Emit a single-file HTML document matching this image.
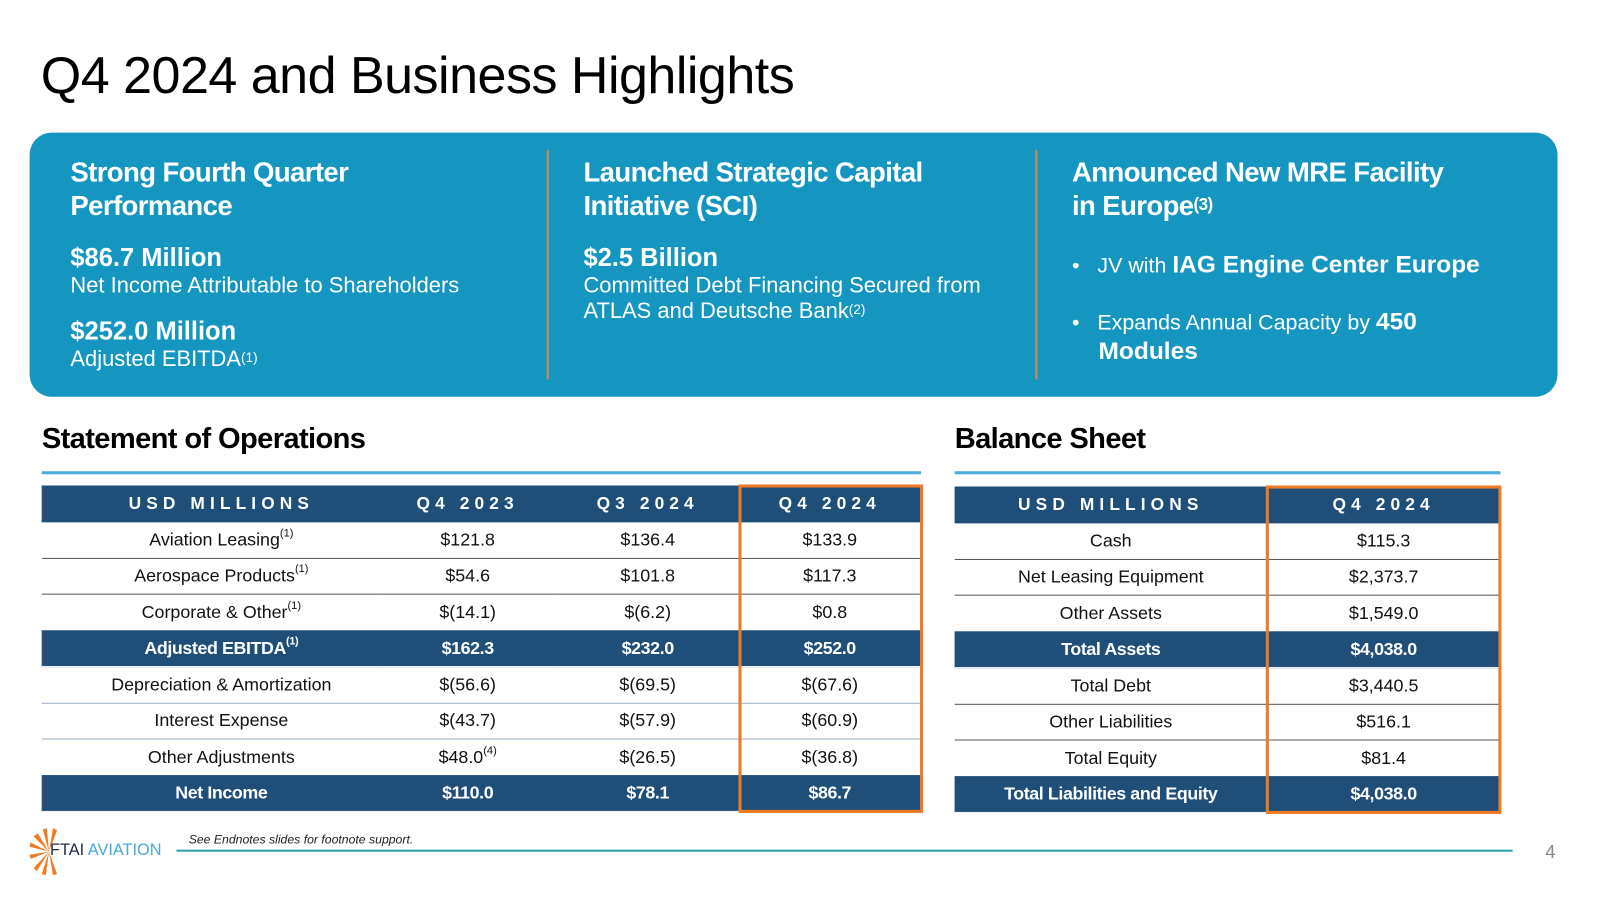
<!DOCTYPE html>
<html><head><meta charset="utf-8">
<style>
*{margin:0;padding:0;box-sizing:border-box}
body{width:1600px;height:900px;background:#fff;font-family:"Liberation Sans",sans-serif;position:relative;overflow:hidden;color:#111}
#wrap{position:absolute;left:0;top:0;width:1568px;height:882px;transform:scale(1.02);transform-origin:0 0}
.a{position:absolute}
.title{left:40px;top:44px;font-size:51px;letter-spacing:-0.5px;color:#000}
.box{left:29px;top:130px;width:1498px;height:259px;background:#1596c0;border-radius:22px}
.div{width:2px;top:147px;height:225px;background:#d98a4a}
.h{color:#fff;font-weight:bold;font-size:27px;line-height:33px;letter-spacing:-0.6px}
.big{color:#fff;font-weight:bold;font-size:25px;letter-spacing:0}
.sm{color:#fff;font-size:21.5px;line-height:25px}
sup{font-size:62%;vertical-align:top;position:relative;top:-2px}
.sec{font-weight:bold;font-size:28.5px;letter-spacing:-0.6px;color:#000}
.hl{height:3px;background:#4aaee0}
table{position:absolute;border-collapse:collapse;font-size:17.5px;background:#fff}
td{height:35.5px;text-align:center;padding:0;border-bottom:1.5px solid #555}
#ops td:first-child{padding-left:22px}
tr.hd{background:#1f4e79}
tr.hd td{background:#1f4e79;color:#fff;font-weight:bold;letter-spacing:5px;font-size:17px;border:none}
tr.tot{background:#1f4e79}
tr.tot td{background:#1f4e79;color:#fff;font-weight:bold;letter-spacing:-0.4px;border-bottom:1.5px solid #fff}
tr.lb td{border-bottom-color:#9ab0c8}
.ob{border:3px solid #f07a22}
</style></head><body><div id="wrap">
<div class="a title">Q4 2024 and Business Highlights</div>
<div class="a box"></div>
<div class="a div" style="left:536px"></div>
<div class="a div" style="left:1015px"></div>

<div class="a" style="left:69px;top:153px">
<div class="h">Strong Fourth Quarter<br>Performance</div>
<div class="big" style="margin-top:20px">$86.7 Million</div>
<div class="sm">Net Income Attributable to Shareholders</div>
<div class="big" style="margin-top:18px">$252.0 Million</div>
<div class="sm">Adjusted EBITDA<sup>(1)</sup></div>
</div>
<div class="a" style="left:572px;top:153px">
<div class="h">Launched Strategic Capital<br>Initiative (SCI)</div>
<div class="big" style="margin-top:20px">$2.5 Billion</div>
<div class="sm">Committed Debt Financing Secured from<br>ATLAS and Deutsche Bank<sup>(2)</sup></div>
</div>
<div class="a" style="left:1051px;top:153px">
<div class="h">Announced New MRE Facility<br>in Europe<sup>(3)</sup></div>
<div class="sm" style="margin-top:28px;font-size:21px">•&nbsp;&nbsp; JV with <b style="font-size:24px">IAG Engine Center Europe</b></div>
<div class="sm" style="margin-top:29px;font-size:21px;line-height:28px;padding-left:26px;text-indent:-26px">•&nbsp;&nbsp; Expands Annual Capacity by <b style="font-size:24px">450<br>Modules</b></div>
</div>

<div class="a sec" style="left:41px;top:414px">Statement of Operations</div>
<div class="a hl" style="left:41px;top:462px;width:862px"></div>
<table id="ops" style="left:41px;top:476px;width:862px">
<colgroup><col style="width:330px"><col style="width:175px"><col style="width:178px"><col style="width:179px"></colgroup>
<tr class="hd"><td>USD MILLIONS</td><td>Q4 2023</td><td>Q3 2024</td><td>Q4 2024</td></tr>
<tr><td>Aviation Leasing<sup>(1)</sup></td><td>$121.8</td><td>$136.4</td><td>$133.9</td></tr>
<tr><td>Aerospace Products<sup>(1)</sup></td><td>$54.6</td><td>$101.8</td><td>$117.3</td></tr>
<tr><td style="border:none">Corporate &amp; Other<sup>(1)</sup></td><td style="border:none">$(14.1)</td><td style="border:none">$(6.2)</td><td style="border:none">$0.8</td></tr>
<tr class="tot"><td>Adjusted EBITDA<sup>(1)</sup></td><td>$162.3</td><td>$232.0</td><td>$252.0</td></tr>
<tr class="lb"><td>Depreciation &amp; Amortization</td><td>$(56.6)</td><td>$(69.5)</td><td>$(67.6)</td></tr>
<tr class="lb"><td>Interest Expense</td><td>$(43.7)</td><td>$(57.9)</td><td>$(60.9)</td></tr>
<tr><td style="border:none">Other Adjustments</td><td style="border:none">$48.0<sup>(4)</sup></td><td style="border:none">$(26.5)</td><td style="border:none">$(36.8)</td></tr>
<tr class="tot"><td>Net Income</td><td>$110.0</td><td>$78.1</td><td>$86.7</td></tr>
</table>
<div class="a ob" style="left:724px;top:475px;width:181px;height:322px"></div>

<div class="a sec" style="left:936px;top:414px">Balance Sheet</div>
<div class="a hl" style="left:936px;top:462px;width:535px"></div>
<table style="left:936px;top:477px;width:535px">
<colgroup><col style="width:306px"><col style="width:229px"></colgroup>
<tr class="hd"><td>USD MILLIONS</td><td>Q4 2024</td></tr>
<tr><td>Cash</td><td>$115.3</td></tr>
<tr><td>Net Leasing Equipment</td><td>$2,373.7</td></tr>
<tr><td style="border:none">Other Assets</td><td style="border:none">$1,549.0</td></tr>
<tr class="tot"><td>Total Assets</td><td>$4,038.0</td></tr>
<tr><td>Total Debt</td><td>$3,440.5</td></tr>
<tr><td>Other Liabilities</td><td>$516.1</td></tr>
<tr><td style="border:none">Total Equity</td><td style="border:none">$81.4</td></tr>
<tr class="tot"><td>Total Liabilities and Equity</td><td>$4,038.0</td></tr>
</table>
<div class="a ob" style="left:1241px;top:476px;width:231px;height:322px"></div>

<svg class="a" style="left:28px;top:810px" width="40" height="50">
<g fill="#f07a22">
<polygon points="20,25 24,2 28,4"/><polygon points="20,25 14,3 18,2"/><polygon points="20,25 5,10 9,7"/>
<polygon points="20,25 1,20 2,16"/><polygon points="20,25 2,32 1,28"/><polygon points="20,25 8,44 5,41"/>
<polygon points="20,25 17,48 13,47"/><polygon points="20,25 28,47 24,48"/>
</g></svg>
<div class="a" style="left:49px;top:825px;font-size:16px;color:#1f2a44">FTAI <span style="color:#4aa8d8">AVIATION</span></div>
<div class="a" style="left:185px;top:816px;font-size:12px;font-style:italic;color:#222">See Endnotes slides for footnote support.</div>
<div class="a" style="left:173px;top:833px;width:1310px;height:2px;background:#2aa0a8"></div>
<div class="a" style="left:1515px;top:825px;font-size:18px;color:#888">4</div>
</div></body></html>
